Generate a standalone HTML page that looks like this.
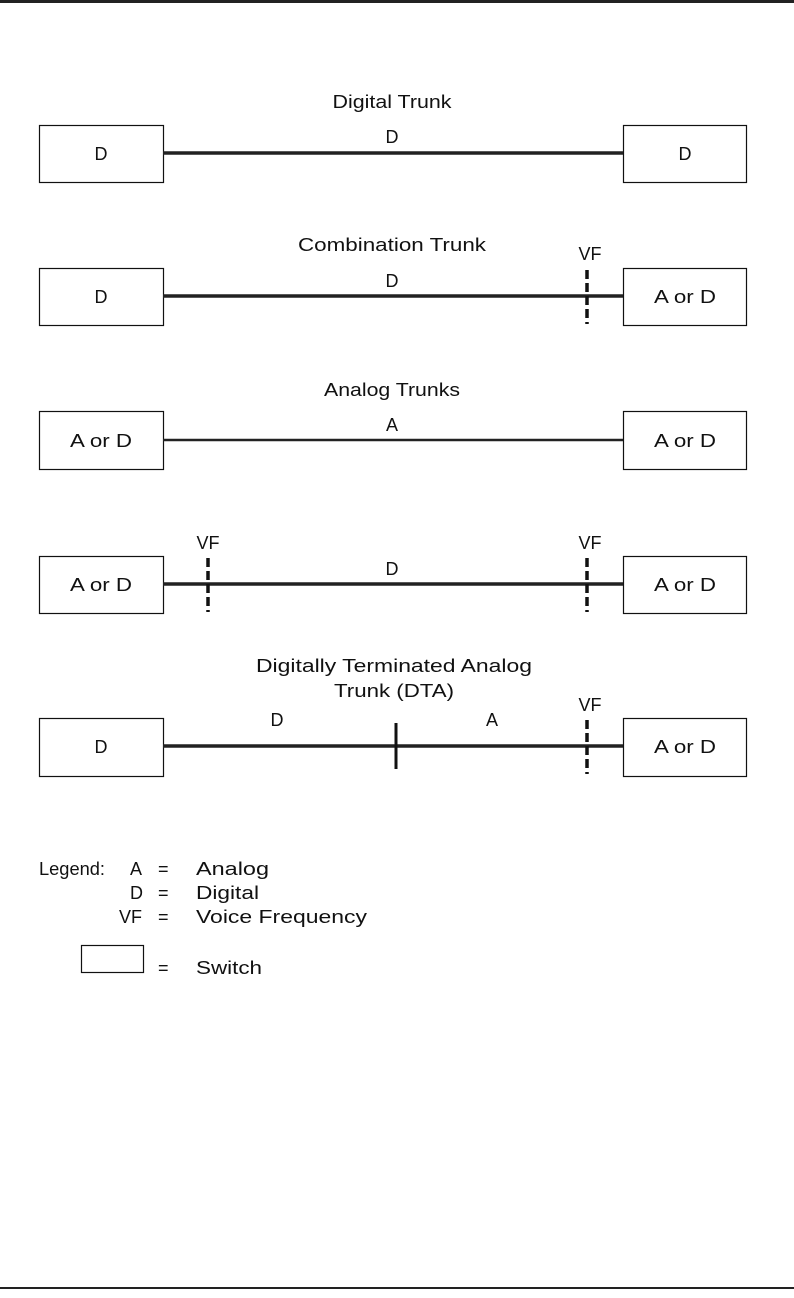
<!DOCTYPE html>
<html><head><style>body{margin:0;background:#fff}svg{display:block}</style></head><body>
<svg width="794" height="1298" viewBox="0 0 794 1298" font-family="Liberation Sans, sans-serif" font-size="18" fill="#111">
<rect x="0" y="0" width="794" height="3" fill="#222"/>
<rect x="0" y="1287" width="794" height="2" fill="#222"/>
<g fill="#fff" stroke="#111" stroke-width="1.2">
<rect x="39.5" y="125.5" width="124" height="57"/><rect x="623.5" y="125.5" width="123" height="57"/>
<rect x="39.5" y="268.5" width="124" height="57"/><rect x="623.5" y="268.5" width="123" height="57"/>
<rect x="39.5" y="411.5" width="124" height="58"/><rect x="623.5" y="411.5" width="123" height="58"/>
<rect x="39.5" y="556.5" width="124" height="57"/><rect x="623.5" y="556.5" width="123" height="57"/>
<rect x="39.5" y="718.5" width="124" height="58"/><rect x="623.5" y="718.5" width="123" height="58"/>
<rect x="81.5" y="945.5" width="62" height="27"/>
</g>
<g stroke="#222" stroke-width="3.5">
<line x1="163" y1="153" x2="623" y2="153"/>
<line x1="163" y1="296" x2="623" y2="296"/>
<line x1="163" y1="584" x2="623" y2="584"/>
<line x1="163" y1="746" x2="623" y2="746"/>
</g>
<line x1="163" y1="440" x2="623" y2="440" stroke="#222" stroke-width="2.5"/>
<g stroke="#111" stroke-width="3.5" stroke-dasharray="9,4">
<line x1="587" y1="270" x2="587" y2="324"/>
<line x1="208" y1="558" x2="208" y2="612"/>
<line x1="587" y1="558" x2="587" y2="612"/>
<line x1="587" y1="720" x2="587" y2="774"/>
</g>
<line x1="396" y1="723" x2="396" y2="769" stroke="#111" stroke-width="3"/>
<g text-anchor="middle">
<text x="392" y="108" textLength="119" lengthAdjust="spacingAndGlyphs">Digital Trunk</text><text x="392" y="143">D</text>
<text x="101" y="160">D</text><text x="685" y="160">D</text>
<text x="392" y="251" textLength="188" lengthAdjust="spacingAndGlyphs">Combination Trunk</text><text x="392" y="287">D</text><text x="590" y="260">VF</text>
<text x="101" y="303">D</text><text x="685" y="303" textLength="62" lengthAdjust="spacingAndGlyphs">A or D</text>
<text x="392" y="396" textLength="136" lengthAdjust="spacingAndGlyphs">Analog Trunks</text><text x="392" y="431">A</text>
<text x="101" y="447" textLength="62" lengthAdjust="spacingAndGlyphs">A or D</text><text x="685" y="447" textLength="62" lengthAdjust="spacingAndGlyphs">A or D</text>
<text x="392" y="575">D</text><text x="208" y="549">VF</text><text x="590" y="549">VF</text>
<text x="101" y="591" textLength="62" lengthAdjust="spacingAndGlyphs">A or D</text><text x="685" y="591" textLength="62" lengthAdjust="spacingAndGlyphs">A or D</text>
<text x="394" y="672" textLength="276" lengthAdjust="spacingAndGlyphs">Digitally Terminated Analog</text><text x="394" y="697" textLength="120" lengthAdjust="spacingAndGlyphs">Trunk (DTA)</text>
<text x="277" y="726">D</text><text x="492" y="726">A</text><text x="590" y="711">VF</text>
<text x="101" y="753">D</text><text x="685" y="753" textLength="62" lengthAdjust="spacingAndGlyphs">A or D</text>
</g>
<text x="39" y="875" textLength="66" lengthAdjust="spacingAndGlyphs">Legend:</text>
<text x="130" y="875">A</text><text x="158" y="875">=</text><text x="196" y="875" textLength="73" lengthAdjust="spacingAndGlyphs">Analog</text>
<text x="130" y="899">D</text><text x="158" y="899">=</text><text x="196" y="899" textLength="63" lengthAdjust="spacingAndGlyphs">Digital</text>
<text x="119" y="923">VF</text><text x="158" y="923">=</text><text x="196" y="923" textLength="171" lengthAdjust="spacingAndGlyphs">Voice Frequency</text>
<text x="158" y="974">=</text><text x="196" y="974" textLength="66" lengthAdjust="spacingAndGlyphs">Switch</text>
</svg>
</body></html>
